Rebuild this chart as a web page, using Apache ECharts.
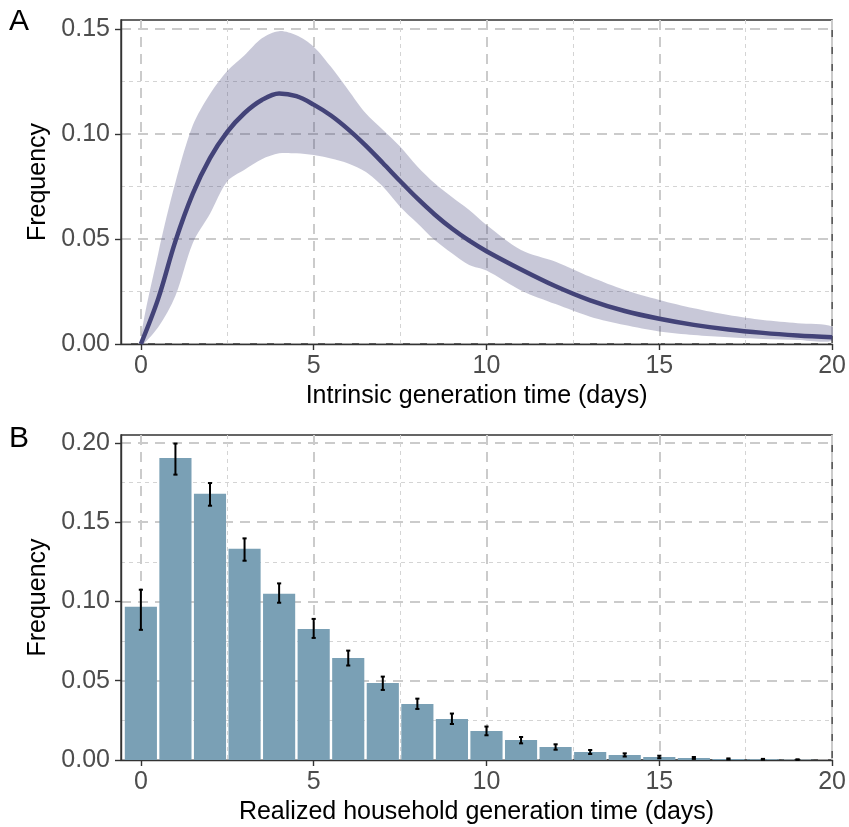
<!DOCTYPE html>
<html><head><meta charset="utf-8">
<script src="https://cdn.jsdelivr.net/npm/echarts@6/dist/echarts.min.js"></script>
<style>html,body{margin:0;padding:0;background:#fff;}#c{width:849px;height:827px;}</style>
</head><body><div id="c"></div>
<script>
// ---- Panel A: intrinsic generation time ----
const curveX = [0, 0.5, 1, 1.5, 2, 2.5, 3, 3.5, 4, 4.5, 5, 5.5, 6, 6.5, 7, 7.5, 8, 8.5, 9, 9.5, 10, 11, 12, 13, 14, 15, 16, 17, 18, 19, 20];
const meanY  = [0, 0.0215, 0.049, 0.0715, 0.0885, 0.101, 0.110, 0.1162, 0.1193, 0.118, 0.114, 0.1088, 0.1022, 0.0946, 0.0862, 0.0776, 0.0693, 0.0617, 0.0550, 0.0492, 0.0442, 0.0355, 0.0275, 0.0208, 0.0157, 0.0120, 0.0091, 0.0069, 0.0053, 0.0041, 0.0032];
const lowerY = [0, 0.008, 0.023, 0.048, 0.062, 0.0775, 0.083, 0.088, 0.0908, 0.0908, 0.090, 0.0884, 0.086, 0.082, 0.075, 0.0654, 0.0575, 0.0495, 0.0432, 0.0376, 0.035, 0.0255, 0.019, 0.013, 0.009, 0.006, 0.0043, 0.0032, 0.0024, 0.0019, 0.0016];
const upperY = [0, 0.043, 0.077, 0.104, 0.119, 0.130, 0.1375, 0.1456, 0.149, 0.147, 0.1416, 0.132, 0.121, 0.110, 0.102, 0.094, 0.0845, 0.0765, 0.070, 0.0638, 0.0567, 0.0448, 0.0392, 0.032, 0.0257, 0.021, 0.017, 0.0138, 0.0114, 0.0099, 0.0083];

// ---- Panel B: realized household generation time ----
const dayBins = [0, 1, 2, 3, 4, 5, 6, 7, 8, 9, 10, 11, 12, 13, 14, 15, 16, 17, 18, 19];
const barFreq = [0.0966, 0.1905, 0.168, 0.1333, 0.1048, 0.0827, 0.0644, 0.0486, 0.0354, 0.0259, 0.0183, 0.0126, 0.0082, 0.0051, 0.0032, 0.0019, 0.0013, 0.0006, 0.0004, 0.0002];
const errLow  = [0.0821, 0.180, 0.1604, 0.1257, 0.0992, 0.077, 0.0596, 0.0442, 0.0322, 0.0227, 0.0156, 0.0105, 0.0065, 0.0038, 0.0022, 0.0011, 0.0007, 0.0003, 0.0002, 0.0001];
const errHigh = [0.1074, 0.1996, 0.1747, 0.1398, 0.1114, 0.089, 0.069, 0.0526, 0.0387, 0.0293, 0.0211, 0.0145, 0.0099, 0.0063, 0.0042, 0.0027, 0.0019, 0.0010, 0.0007, 0.0004];

// ---- ticks ----
const xTicks = [0, 5, 10, 15, 20];
const xMinorTicks = [2.5, 7.5, 12.5, 17.5];
const yTicksA = [0, 0.05, 0.10, 0.15];
const yMinorA = [0.025, 0.075, 0.125];
const yTicksB = [0, 0.05, 0.10, 0.15, 0.20];
const yMinorB = [0.025, 0.075, 0.125, 0.175];

const FONT = '"Liberation Sans", Arial, Helvetica, sans-serif';
const FS = 25;
const X_MIN = -0.575, X_MAX = 20;
const LINE_COL = '#434378';
const BAND_COL = 'rgba(67,67,120,0.29)';
const BAR_COL = '#7aa0b5';

function xMain(g, name) {
  return {type: 'value', gridIndex: g, min: X_MIN, max: X_MAX, position: 'bottom',
    name: name, nameLocation: 'middle', nameGap: 40,
    nameTextStyle: {fontSize: FS, color: '#000', fontFamily: FONT},
    axisLine: {show: true, onZero: false, lineStyle: {color: '#333', width: 1.4}},
    axisTick: {show: true, customValues: xTicks, length: 6, lineStyle: {color: '#333', width: 1.4}},
    axisLabel: {show: true, customValues: xTicks, margin: 10, fontSize: FS, color: '#4d4d4d', fontFamily: FONT},
    splitLine: {show: true, lineStyle: {color: '#cbcbcb', width: 2, type: [10, 7]}}};
}
function xMinor(g) {
  return {type: 'value', gridIndex: g, min: X_MIN, max: X_MAX, position: 'top',
    axisLine: {show: false, onZero: false}, axisTick: {show: false, customValues: xMinorTicks},
    axisLabel: {show: false, customValues: xMinorTicks},
    splitLine: {show: true, lineStyle: {color: '#d4d4d4', width: 1, type: [4, 4]}}};
}
function yMain(g, max, ticks) {
  return {type: 'value', gridIndex: g, min: 0, max: max, position: 'left',
    name: 'Frequency', nameLocation: 'middle', nameGap: 67,
    nameTextStyle: {fontSize: FS, color: '#000', fontFamily: FONT},
    axisLine: {show: true, onZero: false, lineStyle: {color: '#333', width: 1.4}},
    axisTick: {show: true, customValues: ticks, length: 6, lineStyle: {color: '#333', width: 1.4}},
    axisLabel: {show: true, customValues: ticks, margin: 11, fontSize: FS, color: '#4d4d4d', fontFamily: FONT,
      formatter: v => v.toFixed(2)},
    splitLine: {show: true, lineStyle: {color: '#cbcbcb', width: 2, type: [10, 7]}}};
}
function yMinor(g, max, ticks) {
  return {type: 'value', gridIndex: g, min: 0, max: max, position: 'right',
    axisLine: {show: false, onZero: false}, axisTick: {show: false, customValues: ticks},
    axisLabel: {show: false, customValues: ticks},
    splitLine: {show: true, lineStyle: {color: '#d4d4d4', width: 1, type: [4, 4]}}};
}

const chart = echarts.init(document.getElementById('c'), null, {renderer: 'canvas'});
chart.setOption({
  animation: false,
  backgroundColor: '#fff',
  grid: [
    {left: 121, right: 13, top: 20, height: 324, show: true, borderColor: '#333', borderWidth: 1.4, backgroundColor: 'transparent'},
    {left: 121, right: 13, top: 435, height: 325, show: true, borderColor: '#333', borderWidth: 1.4, backgroundColor: 'transparent'}
  ],
  xAxis: [
    xMinor(0), xMain(0, 'Intrinsic generation time (days)'),
    xMinor(1), xMain(1, 'Realized household generation time (days)')
  ],
  yAxis: [
    yMinor(0, 0.1543, yMinorA), yMain(0, 0.1543, yTicksA),
    yMinor(1, 0.205, yMinorB), yMain(1, 0.205, yTicksB)
  ],
  graphic: [
    {type: 'text', left: 9, top: 7, style: {text: 'A', fontSize: 30, fontFamily: FONT, fill: '#000'}},
    {type: 'text', left: 9, top: 424, style: {text: 'B', fontSize: 30, fontFamily: FONT, fill: '#000'}}
  ],
  series: [
    {type: 'custom', xAxisIndex: 1, yAxisIndex: 1, silent: true, clip: true, z: 2,
      encode: {x: 0, y: [1, 2]},
      data: curveX.map((x, i) => [x, lowerY[i], upperY[i]]),
      renderItem: (params, api) => {
        if (params.dataIndex !== 0) return null;
        const pts = [];
        for (let i = 0; i < curveX.length; i++) pts.push(api.coord([curveX[i], upperY[i]]));
        for (let i = curveX.length - 1; i >= 1; i--) pts.push(api.coord([curveX[i], lowerY[i]]));
        return {type: 'polygon', shape: {points: pts, smooth: 0.3}, style: {fill: BAND_COL}};
      }},
    {type: 'line', xAxisIndex: 1, yAxisIndex: 1, symbol: 'none', smooth: 0.35, silent: true, z: 3,
      lineStyle: {color: LINE_COL, width: 4.5}, data: curveX.map((x, i) => [x, meanY[i]])},
    {type: 'custom', xAxisIndex: 3, yAxisIndex: 3, silent: true,
      encode: {x: 0, y: 1},
      data: dayBins.map((d, i) => [d, barFreq[i]]),
      renderItem: (params, api) => {
        const x = api.value(0), v = api.value(1);
        const p1 = api.coord([x - 0.465, v]);
        const p2 = api.coord([x + 0.465, 0]);
        return {type: 'rect', shape: {x: p1[0], y: p1[1], width: p2[0] - p1[0], height: p2[1] - p1[1]},
          style: {fill: BAR_COL}};
      }},
    {type: 'custom', xAxisIndex: 3, yAxisIndex: 3, silent: true, z: 5,
      encode: {x: 0, y: [1, 2]},
      data: dayBins.map((d, i) => [d, errLow[i], errHigh[i]]),
      renderItem: (params, api) => {
        const x = api.value(0);
        const lo = api.coord([x, api.value(1)]);
        const hi = api.coord([x, api.value(2)]);
        const hw = api.size([0.06, 0])[0];
        const st = {stroke: '#000', lineWidth: 2};
        return {type: 'group', children: [
          {type: 'line', shape: {x1: lo[0], y1: lo[1], x2: hi[0], y2: hi[1]}, style: st},
          {type: 'line', shape: {x1: lo[0] - hw, y1: lo[1], x2: lo[0] + hw, y2: lo[1]}, style: st},
          {type: 'line', shape: {x1: hi[0] - hw, y1: hi[1], x2: hi[0] + hw, y2: hi[1]}, style: st}
        ]};
      }}
  ]
});
</script></body></html>
